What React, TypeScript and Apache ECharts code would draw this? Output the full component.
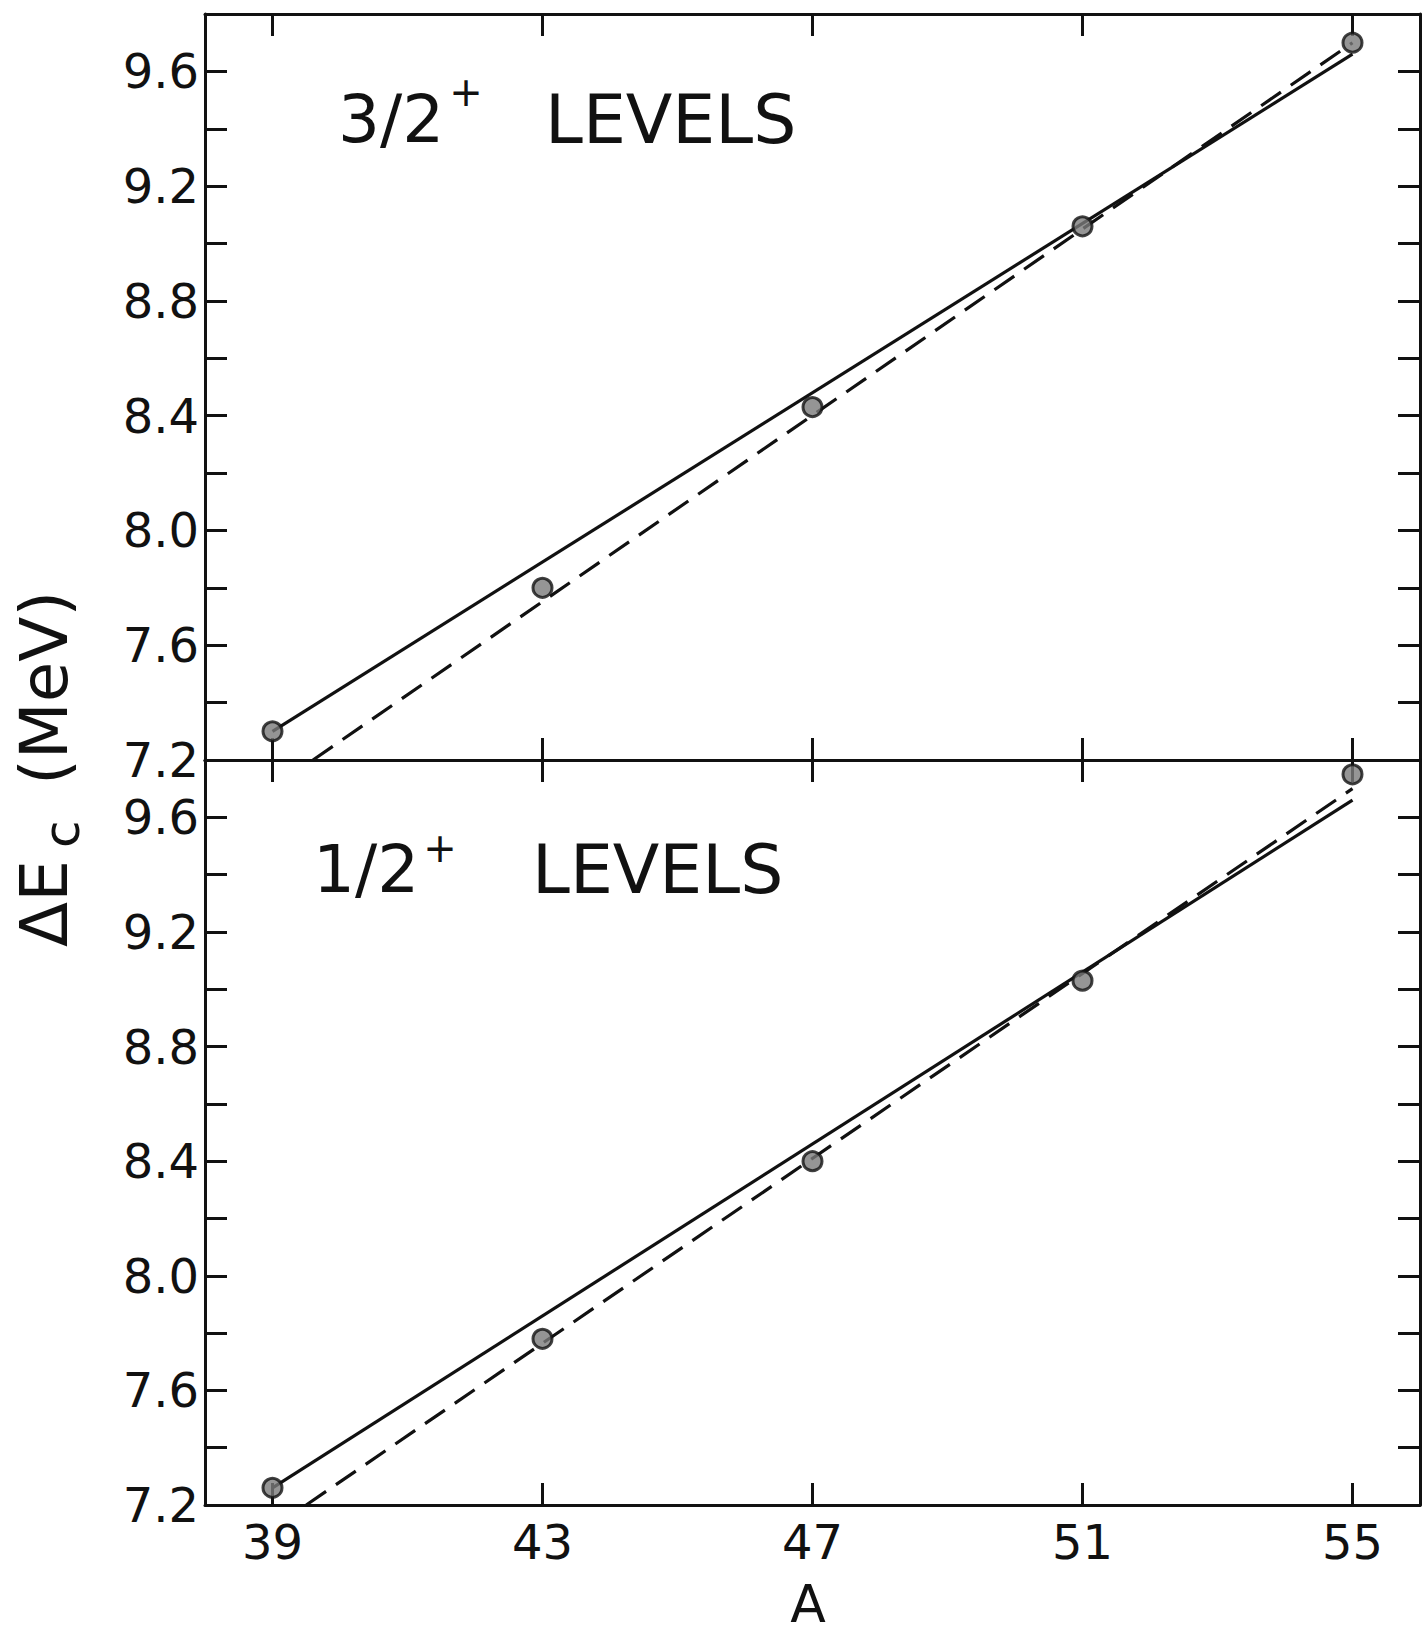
import React, { useEffect, useRef } from "react";
import * as echarts from "echarts";

// Mass numbers of the measured levels
const massNumbers = [39, 43, 47, 51, 55];

// Coulomb energy differences (MeV)
const levels32 = [7.3, 7.8, 8.43, 9.06, 9.7];
const levels12 = [7.26, 7.78, 8.4, 9.03, 9.75];

// Straight-line fits: A values and ΔEc values at their ends
const solid32A = [39, 55];
const solid32 = [7.3, 9.66];
const dashed32A = [39.6, 55];
const dashed32 = [7.2, 9.7];
const solid12A = [39, 55];
const solid12 = [7.26, 9.66];
const dashed12A = [39.5, 55];
const dashed12 = [7.2, 9.7];

// Axis ticks and labels
const xTicks = [39, 43, 47, 51, 55];
const yTicks = [7.2, 7.4, 7.6, 7.8, 8.0, 8.2, 8.4, 8.6, 8.8, 9.0, 9.2, 9.4, 9.6, 9.8];
const yLabels = [7.2, 7.6, 8.0, 8.4, 8.8, 9.2, 9.6];

const INK = "#111";
const FONT = "DejaVu Sans";

const pairs = (xs: number[], ys: number[]) => xs.map((x, i) => [x, ys[i]]);

export default function App() {
  const ref = useRef<HTMLDivElement>(null);

  useEffect(() => {
    if (!ref.current) return;
    const chart = echarts.init(ref.current, null, { renderer: "svg" });

    const axisLine = { show: true, lineStyle: { color: INK, width: 3 } };
    const xAxisBase = (grid: number, position: "top" | "bottom", labels: boolean) => ({
      type: "value",
      gridIndex: grid,
      position,
      min: 38,
      max: 56,
      axisLine,
      splitLine: { show: false },
      axisTick: {
        show: true,
        inside: true,
        length: 22,
        customValues: xTicks,
        lineStyle: { color: INK, width: 3 },
      },
      axisLabel: {
        show: labels,
        customValues: xTicks,
        formatter: (v: number) => String(v),
        color: INK,
        fontFamily: FONT,
        fontSize: 48,
        lineHeight: 50,
        margin: 12,
      },
    });
    const yAxisBase = (grid: number, position: "left" | "right", labels: boolean) => ({
      type: "value",
      gridIndex: grid,
      position,
      min: 7.2,
      max: 9.8,
      axisLine,
      splitLine: { show: false },
      axisTick: {
        show: true,
        inside: true,
        length: 22,
        customValues: yTicks,
        lineStyle: { color: INK, width: 3 },
      },
      axisLabel: {
        show: labels,
        customValues: yLabels,
        formatter: (v: number) => v.toFixed(1),
        color: INK,
        fontFamily: FONT,
        fontSize: 48,
        margin: 6,
      },
    });

    const pointStyle = {
      type: "scatter",
      symbol: "circle",
      symbolSize: 19,
      itemStyle: { color: "#7a7a7a", borderColor: INK, borderWidth: 3 },
      z: 5,
    };
    const fitLine = (dashed: boolean) => ({
      type: "line",
      symbol: "none",
      lineStyle: { color: INK, width: 3.2, type: dashed ? [24, 12] : "solid" },
      z: 3,
    });

    const titleText = (x: number, y: number, text: string, size: number, align = "left") => ({
      type: "text",
      x,
      y,
      style: {
        text,
        fill: INK,
        font: `${size}px "${FONT}"`,
        textAlign: align,
        textVerticalAlign: "middle",
      },
    });
    const sideText = (x: number, y: number, text: string, size: number) => ({
      type: "text",
      x,
      y,
      rotation: Math.PI / 2,
      style: {
        text,
        fill: INK,
        font: `${size}px "${FONT}"`,
        textAlign: "left",
        textVerticalAlign: "middle",
      },
    });

    chart.setOption({
      animation: false,
      backgroundColor: "#fff",
      grid: [
        { left: 205, right: 6, top: 14, height: 746 },
        { left: 205, right: 6, top: 760, height: 745 },
      ],
      xAxis: [
        xAxisBase(0, "top", false),
        xAxisBase(0, "bottom", false),
        xAxisBase(1, "top", false),
        xAxisBase(1, "bottom", true),
      ],
      yAxis: [
        yAxisBase(0, "left", true),
        yAxisBase(0, "right", false),
        yAxisBase(1, "left", true),
        yAxisBase(1, "right", false),
      ],
      series: [
        { ...fitLine(false), xAxisIndex: 1, yAxisIndex: 0, data: pairs(solid32A, solid32) },
        { ...fitLine(true), xAxisIndex: 1, yAxisIndex: 0, data: pairs(dashed32A, dashed32) },
        { ...pointStyle, xAxisIndex: 1, yAxisIndex: 0, data: pairs(massNumbers, levels32) },
        { ...fitLine(false), xAxisIndex: 3, yAxisIndex: 2, data: pairs(solid12A, solid12) },
        { ...fitLine(true), xAxisIndex: 3, yAxisIndex: 2, data: pairs(dashed12A, dashed12) },
        { ...pointStyle, xAxisIndex: 3, yAxisIndex: 2, data: pairs(massNumbers, levels12) },
      ],
      graphic: [
        titleText(338, 119, "3/2", 66),
        titleText(466, 92, "+", 40, "center"),
        titleText(545, 119, "LEVELS", 68),
        titleText(313, 869, "1/2", 66),
        titleText(440, 848, "+", 40, "center"),
        titleText(532, 869, "LEVELS", 68),
        sideText(44, 947, "ΔE", 66),
        sideText(62, 848, "c", 50),
        sideText(44, 785, "(MeV)", 66),
        titleText(808, 1604, "A", 52, "center"),
      ],
    });

    return () => chart.dispose();
  }, []);

  return (
    <div
      ref={ref}
      style={{ position: "absolute", left: 0, top: 0, width: 1426, height: 1635 }}
    />
  );
}
